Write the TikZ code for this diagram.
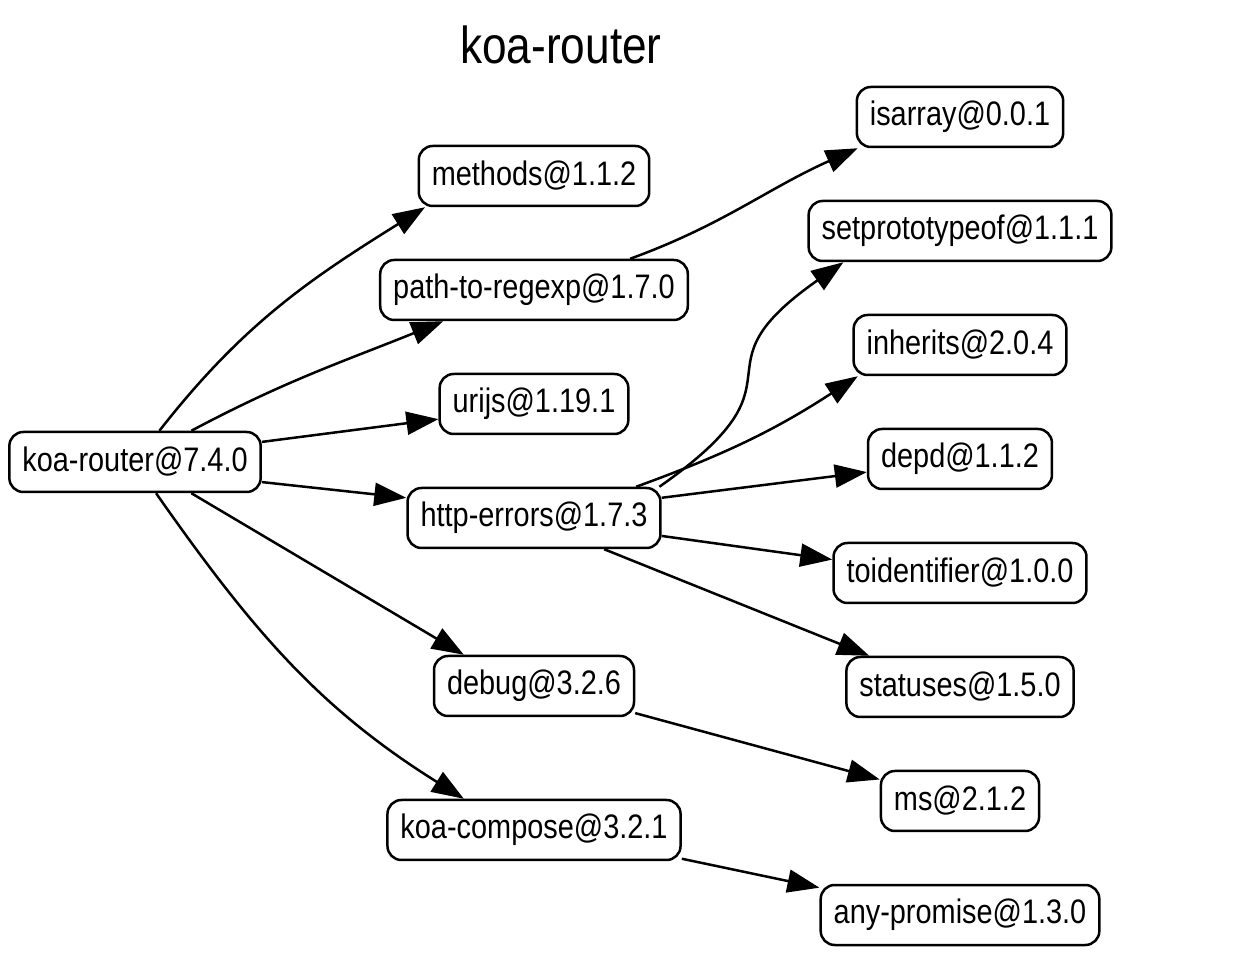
\documentclass[tikz,border=0pt]{standalone}
\usepackage{fontspec}
\setmainfont{Liberation Sans}[FakeStretch=0.85]
\usetikzlibrary{arrows.meta}
\tikzset{
  pkg/.style={draw, rectangle, rounded corners=7pt, line width=1.25pt,
    minimum height=30pt, inner xsep=6.5pt, font=\fontsize{17}{20}\selectfont},
  dep/.style={-{Triangle[length=16pt,width=11.5pt]}, line width=1.25pt},
}

\begin{document}
\begin{tikzpicture}[x=0.5pt,y=0.5pt]
\useasboundingbox (0,0) rectangle (1251,952);
\node[font=\fontsize{26}{30}\selectfont] (title) at (561,907) {koa-router};
% root
\node[pkg] (kr) at (135,490) {koa-router@7.4.0};
% direct dependencies
\node[pkg] (methods) at (534,776) {methods@1.1.2};
\node[pkg] (ptr) at (534,662) {path-to-regexp@1.7.0};
\node[pkg] (urijs) at (534,548) {urijs@1.19.1};
\node[pkg] (he) at (534,434) {http-errors@1.7.3};
\node[pkg] (debug) at (534,266) {debug@3.2.6};
\node[pkg] (kc) at (534,122) {koa-compose@3.2.1};
% second level
\node[pkg] (isarray) at (960,835) {isarray@0.0.1};
\node[pkg] (spo) at (960,721) {setprototypeof@1.1.1};
\node[pkg] (inherits) at (960,607) {inherits@2.0.4};
\node[pkg] (depd) at (960,493) {depd@1.1.2};
\node[pkg] (toid) at (960,379) {toidentifier@1.0.0};
\node[pkg] (statuses) at (960,265) {statuses@1.5.0};
\node[pkg] (ms) at (960,151) {ms@2.1.2};
\node[pkg] (ap) at (960,37) {any-promise@1.3.0};
% edges from the root
\draw[dep] (kr.52) to[out=52,in=212] (methods.196);
\draw[dep] (kr.29) to[out=28,in=202] (ptr.199);
\draw[dep] (kr.9) -- (urijs.189);
\draw[dep] (kr.-9) -- (he.171);
\draw[dep] (kr.-29) -- (debug.156);
\draw[dep] (kr.-56) to[out=-55,in=148] (kc.156);
% edges further down
\draw[dep] (ptr.18) to[out=20,in=204] (isarray.197);
\draw[dep] (he.14) to[out=35,in=215,looseness=1.7] (spo.195);
\draw[dep] (he.17) to[out=20,in=213] (inherits.197);
\draw[dep] (he.9) -- (depd.188);
\draw[dep] (he.-8) -- (toid.174);
\draw[dep] (he.-24) -- (statuses.161);
\draw[dep] (debug.-15) -- (ms.165);
\draw[dep] (kc.-11) -- (ap.169);
\end{tikzpicture}
\end{document}
